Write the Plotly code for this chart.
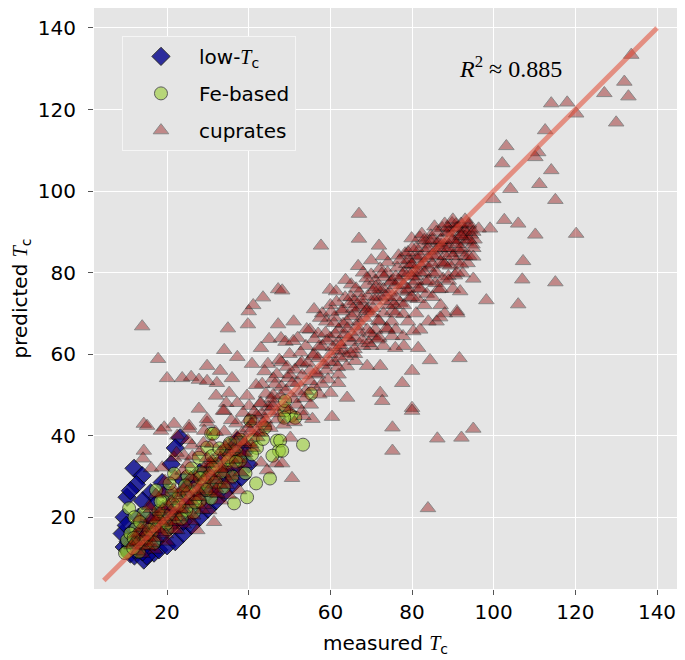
import plotly.graph_objects as go

# ---------------- data ----------------
low_tc = [(9.5,12.7),(9,16),(9.5,20),(10.2,24.9),(11.9,32.0),(13.9,30.2),(12.5,28),(11,26.5),(10,18),
          (10.5,14),(11,11),(12,10.5),(13,12),(14.3,9.5),(16.8,11.2),(15,10.5),(18,12),(20,13),(22,14),
          (24,16),(26,18),(28,20),(30,22),(32,24),(34,26),(36,28),(38.2,29.8),(37.2,38.8),(35,36),(38,35),
          (33,33),(30,31),(28,28),(25,25),(22,22),(20,20),(18,18),(16,16),(14,14),(12,12),(18.8,28.5),
          (16,26),(14,24),(13,20),(12,17),(15,20),(17,23),(20,26),(23.2,39.5),(22,37),(21,33),(24,29),
          (36,37),(39,36),(40,33),(17,14),(19,16),(21,18),(23,20),(26,22),
          (29,25),(31,27),(33,29),(35,31),(37,33),(11,13),(13,15),(15,17),(26,29),(28,31),(24,19),(19,22),
          (14,11.5),(10.5,12)]

fe_based = [(10.7,22.2),(10.2,11.5),(13.1,11.5),(10.2,14.4),(17.3,26.6),(21.7,30.7),(22.9,25.4),(28.3,31.0),
            (27.8,34.6),(30.8,40.5),(29.8,37.1),(34.5,36.3),(39.6,24.9),(41.8,28.3),(45.2,29.5),(36.4,23.4),
            (46.9,38.8),(47.4,36.3),(45.8,35.1),(50.4,44.9),(48.7,46.1),(26.6,21.2),(16.3,16.3),(12.4,17.3),
            (14.8,13.7),(16.8,13.7),(21.1,25.9),(30.8,24.6),(24.7,21.7),(19.3,20.5),(14.3,21.0),(33.2,31.0),
            (34.7,33.4),(32.0,28.5),(29.1,28.3),(53.3,37.8),(55.3,50.3),(48.9,48.5),(51.4,44.4),(48.7,44.4),
            (47.7,38.8),(48.2,36.3),(40.4,43.7),(31.3,40.5),(9.7,11.2),(11.7,12.4),(18,19),(20,17),(23,23),
            (25,26),(27,27),(30,30),(32,33),(35,34),(37,36),(38,39),(25,30),(22,20),(19,24),(28,24),(15,15),
            (13,14),(11,16),(12,20),(17,18),(26,32),(31,35),(36,30),(41,39),(44,42),(38,34),(42,37),
            (11.8,14.9),(13.4,18.8),(15.6,16.9),(17.9,21.5),(19.8,18.4),(21.5,23.2),(23.6,19.7),(24.4,27.8),
            (26.9,23.6),(28.1,29.6),(29.6,26.7),(31.2,32.1),(32.8,36.9),(33.9,27.3),(35.4,38.2),(36.9,33.6),
            (39.2,30.8),(40.8,35.4),(43.5,39.2),(20.6,28.3),(18.4,23.9)]

cuprates_low = [(13.9,66.8),(17.8,58.8),(20.0,54.1),(23.7,54.1),(25.9,54.4),(27.8,53.7),(29.8,57.1),(33.0,55.9),
                (34.0,61.0),(37.2,59.3),(34.9,66.3),(39.8,67.3),(40.0,70.5),(41.1,72.0),(43.5,73.9),(47.2,75.9),
                (47.2,67.3),(45.0,63.7),(43.0,61.5),(47.9,63.9),(40.8,57.6),(44.7,57.6),(46.9,55.1),(43.3,52.7),
                (32.2,52.9),(35.9,54.1),(29.8,53.4),(27.8,46.6),(32.0,49.8),(35.2,50.5),(34.5,48.0),(37.2,48.0),
                (34.0,46.1),(39.6,49.8),(40.1,47.3),(43.0,48.0),(29.8,43.2),(14.3,42.9),(21.7,42.9),(19.3,42.0),
                (25.4,42.4),(15.1,42.4),(14.3,36.3),(14.1,34.4),(18.5,41.2),(22.5,40.0),(25.4,41.7),(29.8,44.1),
                (33.7,46.1),(29.1,41.2),(16.1,32.0),(18.8,32.2),(21.7,34.6),(24.2,35.1),(26.1,37.6),(30.3,21.7),
                (31.5,25.9),(33.2,24.1),(35.2,25.4),(37.6,26.6),(43.0,33.4),(44.5,31.5),(46.7,33.2),(43.0,40.7),
                (40.6,42.9),(50.6,29.6),(31.5,18.8),(27.4,16.8),(22.5,16.8),(48.2,33.2),(50.2,39.5),(55.6,44.1),
                (60.0,50.5),(61.9,52.9),(64.1,49.3),(60.4,44.6),(48.2,75.6),
                (12,14),(13,16),(14,13),(15,18),(16,15),(17,20),(18,17),(19,22),(20,19),(21,24),(22,21),(23,26),
                (24,22),(25,28),(26,24),(27,30),(28,26),(29,32),(30,28),(31,34),(32,30),(33,36),(34,32),(35,38),
                (36,34),(37,40),(38,36),(39,38),(36,30),(33,28),(30,33),(27,25),(24,27),(21,18),(18,20),(15,14),
                (16,22),(19,26),(22,30),(25,33),(28,36),(31,38),(34,41),(37,43),(40,44),(42,45),(44,44),(46,48),
                (38,31),(41,37),(39,33),(26,19),(23,20),(20,14),(17,12),(14,11),(35,29),(29,23),(32,27)]

cuprates_cluster = [(11.3,13.1),(12.2,15.7),(12.8,11.6),(13.6,17.4),(14.5,15.2),(15.3,12.8),(15.9,19.6),
                    (16.7,17.1),(17.4,14.9),(18.2,21.3),(18.9,18.6),(19.7,15.8),(20.4,22.7),(21.2,20.1),
                    (21.9,16.9),(22.7,24.6),(23.4,21.8),(24.1,18.2),(24.9,26.3),(25.6,23.1),(26.4,20.4),
                    (27.1,28.5),(27.8,24.9),(28.6,21.8),(29.3,29.7),(30.1,26.4),(30.8,33.2),(31.6,29.1),
                    (32.3,25.7),(33.1,34.6),(33.8,30.7),(34.6,27.9),(35.3,35.9),(36.1,32.4),(36.8,38.5),
                    (37.6,34.2),(38.3,40.6),(39.1,35.7),(39.8,41.8),(40.6,37.9),(41.4,43.6),(42.2,40.8),
                    (43.1,45.4),(44.0,42.3),(44.8,47.1),(19.5,28.9),(17.3,25.6),(23.8,31.4),(26.2,34.9),
                    (28.9,38.2),(31.9,40.9),(35.7,43.8),(38.6,45.6),(22.3,35.8),(25.1,38.9),
                    (12.6,13.8),(14.9,16.4),(16.4,13.6),(18.6,16.3),(20.9,21.6),(22.2,18.8),(24.6,23.9),
                    (27.5,26.8),(30.4,30.9),(33.4,31.8),(36.4,36.7),(38.9,38.4),(17.1,19.3),(21.6,26.8),
                    (25.8,29.7),(29.8,34.5),(34.2,37.4),(15.6,22.8),(13.2,19.7)]

cuprates_mid = [(57.7,86.6),(59.9,75.8),(65.1,77.1),(63.6,73.9),(67.0,94.4),(67.0,88.3),(70.0,79.5),(72.2,81.0),
                (71.9,86.6),(52.6,57.6),(49.6,54.1),(62,60.7),(66.1,58.3),(69.0,57.1),(72.2,57.1),(70.5,64.4),
                (75.1,64.4),(75.9,61.5),(77.8,64.4),(80.3,65.6),(81.5,61.5),(84.4,58.5),(80.0,55.9),(77.6,52.9),
                (72.2,50.5),(72.7,48.5),(80.0,46.8),(80.0,46.1),(75.2,42.0),(75.2,36.3),(86.2,39.3),(83.9,22.2),
                (91.6,59.0),(95.0,41.7),(92.1,39.5),
                (45,46),(46,50),(47,44),(48,52),(49,47),(50,55),(51,49),(52,53),(53,58),(54,51),(55,56),(50,60),
                (52,64),(54,62),(56,60),(48,58),(46,54),(53,46),(57,55),(55,66),(51,68),(49,63),
                (56,52),(57,59),(58,62),(59,56),(60,64),(61,58),(62,66),(63,61),(64,68),(65,63),(58,70),(60,72),
                (62,55),(64,57),(66,70),(57,65),(59,68),(61,69),(63,71),(65,74),(56,71),(60,60),(62,63),
                (66,64),(67,68),(68,72),(69,66),(70,70),(71,74),(72,68),(73,76),(74,72),(75,78),(66,60),(68,62),
                (70,62),(72,64),(74,66),(67,75),(69,77),(71,78),(73,70),(75,73),(68,80),(70,83),(72,76),(74,80),
                (66,73),(69,71),(71,66),(73,62),(75,68)]

cuprates_band = [(40.5,41.2),(41.3,45.8),(42.1,39.6),(42.8,47.9),(43.6,43.1),(44.2,50.3),(45.3,41.9),(45.9,47.2),
                 (46.4,52.6),(47.1,45.5),(47.8,49.8),(48.6,42.7),(49.2,51.1),(49.9,46.3),(50.7,52.9),(51.3,56.2),
                 (51.8,47.6),(52.4,50.4),(53.1,54.8),(53.7,49.2),(54.5,57.9),(55.1,53.4),(55.8,59.6),(56.4,55.3),
                 (57.2,61.8),(57.9,52.7),(58.5,57.4),(59.1,63.3),(59.8,58.1),(60.6,61.7),
                 (61.2,64.9),(61.8,56.8),(62.5,62.2),(63.1,67.4),(63.8,59.5),(64.4,64.1),(65.2,69.3),(65.9,61.2),
                 (66.5,66.8),(67.2,71.6),(67.8,63.4),(68.4,68.9),(69.1,74.2),(69.7,65.1),(70.4,71.3),(71.1,76.5),
                 (71.7,68.2),(72.4,73.9),(73.1,78.8),(73.8,66.4),(74.5,75.1),(75.2,70.6),(74.1,82.5),(72.9,84.0),
                 (70.6,75.7),(68.9,78.6),(66.3,76.1),(64.7,72.3),(62.9,70.5),(60.9,67.6),
                 (75.8,76.9),(76.4,81.2),(77.1,72.6),(77.7,79.4),(78.3,84.7),(78.9,75.3),(79.6,81.9),(80.2,77.1),
                 (80.8,84.3),(81.4,73.5),(82.1,81.7),(82.7,86.9),(83.3,77.8),(83.9,83.6),(84.6,89.1),(85.2,79.6),
                 (85.8,85.4),(86.4,75.9),(87.1,86.8),(87.7,82.3),(88.3,89.7),(88.9,79.1),(89.5,84.8),(90.2,90.6),
                 (90.8,82.7),(91.4,88.2),(92.0,84.9),(92.6,90.8),(93.2,87.6),(93.8,91.7),(94.4,89.3),(89.8,92.1),
                 (87.4,90.9),(85.5,91.3),(83.2,85.2),(81.1,83.4),(79.2,79.9),(77.4,75.6),(81.9,88.6),(79.9,88.4)]

cuprates_band2 = [(41.8,52.4),(43.9,55.8),(45.6,49.1),(47.5,58.6),(49.4,56.9),(50.9,63.2),(52.7,60.4),(54.2,66.1),
                  (56.1,63.7),(57.5,68.9),(58.8,65.2),(60.2,70.4),(59.4,53.8),(57.3,50.1),(55.2,47.6),(53.4,44.8),
                  (51.2,43.3),(61.5,72.8),(62.3,59.1),(63.5,64.8),(64.9,60.3),(65.6,71.2),(66.9,65.5),(67.6,73.4),
                  (68.8,70.6),(69.4,62.7),(70.9,73.1),(71.5,63.6),(72.6,79.7),(73.5,74.3),(74.8,77.6),(75.6,72.1),
                  (76.7,84.2),(77.9,69.8),(78.6,82.1),(79.4,73.7),(63.7,78.2),(61.4,75.4),(66.8,81.6),(64.2,66.3),
                  (80.6,80.7),(81.6,76.2),(82.4,89.5),(83.6,74.8),(84.1,81.2),(84.9,84.3),(85.7,77.4),(86.2,87.3),
                  (86.9,82.6),(87.6,78.5),(88.1,84.1),(88.7,91.1),(89.3,81.7),(89.9,87.9),(90.5,79.3),(91.2,85.6),
                  (91.9,89.4),(92.4,79.8),(93.0,88.8),(93.6,82.3),(94.2,90.5),(94.8,86.9),(95.3,88.1),(90.7,91.8),
                  (88.5,87.4),(86.8,85.9),(84.3,87.7),(82.9,82.3),(80.9,79.2),(79.1,83.2)]

cuprates_high = [(76,74),(77,78),(78,80),(79,76),(80,82),(81,78),(82,84),(83,80),(84,86),(85,82),(76,70),(78,72),
                 (80,74),(82,76),(84,78),(77,83),(79,85),(81,86),(83,88),(85,88),(76,66),(79,68),(81,70),(83,72),
                 (85,74),(78,62),(82,66),(84,68),(80,79),(82,80),(78,77),(80,86),(76,79),
                 (86,84),(87,88),(88,86),(89,90),(90,88),(91,91),(92,92),(93,90),(94,92),(86,80),(88,82),(90,84),
                 (92,86),(94,88),(87,76),(89,78),(91,80),(93,84),(86,90),(88,92),(90,93),(92,89),(89,86),(91,87),
                 (93,93),(87,72),(90,76),(86,68),(88,70),(92,82),(95,90),(95,86),(94,84),
                 (102.6,92.9),(106.0,92.0),(99.1,90.8),(110.2,89.3),(120.2,89.5),(107.2,82.8),(96.3,90.8),
                 (107.0,78.3),(115.1,77.6),(106.0,72.2),(98.2,73.2),(95.0,78.5),(95,83.9),(91.0,70.5),(91.8,75.4),
                 (91.1,70.0),(86.9,69.0),(99.9,98.0),
                 (133.7,133.4),(132.0,126.8),(133.0,123.2),(127.1,124.0),(130.0,116.8),(114.1,121.5),(118.0,121.7),
                 (120.2,119.0),(112.6,114.9),(103.1,111.0),(102.1,106.8),(110.9,109.5),(110.2,108.3),(114.1,105.1),
                 (111.2,101.7),(104.1,100.5),(115.1,97.8)]

line_x = [4.5, 140]
line_y = [4.5, 140]

x_ticks = [20, 40, 60, 80, 100, 120, 140]
y_ticks = [20, 40, 60, 80, 100, 120, 140]
r2_text = "<i>R</i><sup>2</sup> ≈ 0.885"

cuprates = cuprates_low + cuprates_cluster + cuprates_mid + cuprates_band + cuprates_band2 + cuprates_high

# ---------------- figure ----------------
SERIF_T = "<span style=\"font-family:Liberation Serif\"><i>T</i></span><sub>c</sub>"

fig = go.Figure()
fig.add_trace(go.Scatter(
    x=[p[0] for p in low_tc], y=[p[1] for p in low_tc], mode="markers",
    name="low-" + SERIF_T, legendgroup="a",
    marker=dict(symbol="diamond", size=14, color="#00008B", opacity=0.8,
                line=dict(color="black", width=1))))
fig.add_trace(go.Scatter(
    x=[p[0] for p in fe_based], y=[p[1] for p in fe_based], mode="markers",
    name="Fe-based", legendgroup="b",
    marker=dict(symbol="circle", size=13, color="#9ACD32", opacity=0.6,
                line=dict(color="black", width=1))))
fig.add_trace(go.Scatter(
    x=[p[0] for p in cuprates], y=[p[1] for p in cuprates], mode="markers",
    name="cuprates", legendgroup="c",
    marker=dict(symbol="triangle-up", size=13.5, color="#8B0000", opacity=0.4,
                line=dict(color="black", width=1))))
fig.add_trace(go.Scatter(
    x=line_x, y=line_y, mode="lines", showlegend=False,
    line=dict(color="#E24A33", width=5), opacity=0.55, hoverinfo="skip"))

axis_font = dict(family="DejaVu Sans", size=20, color="black")
common = dict(ticks="outside", ticklen=5, tickwidth=1, tickcolor="#555555",
              showgrid=True, gridcolor="white", gridwidth=1, zeroline=False,
              showline=True, linecolor="rgba(0,0,0,0)", mirror="ticks",
              tickfont=axis_font, automargin=False)

fig.update_xaxes(range=[2.1, 144.9], tickvals=x_ticks,
                 title=dict(text="measured " + SERIF_T, font=axis_font, standoff=12), **common)
fig.update_yaxes(range=[2.4, 144.9], tickvals=y_ticks, ticklabelstandoff=8,
                 title=dict(text="predicted " + SERIF_T, font=axis_font, standoff=10), **common)

fig.add_annotation(x=104, y=130.5, xref="x", yref="y", text=r2_text, showarrow=False,
                   font=dict(family="Liberation Serif", size=24, color="black"))

# the page body adds an 8 px offset, so the figure is sized to fill the 685x660 window
fig.update_layout(
    width=677, height=652,
    margin=dict(l=86, r=8, t=0, b=71, autoexpand=False),
    paper_bgcolor="white", plot_bgcolor="#E5E5E5",
    showlegend=True,
    legend=dict(x=0.048, y=0.952, xanchor="left", yanchor="top",
                bgcolor="#E5E5E5", bordercolor="#F5F5F5", borderwidth=1,
                font=dict(family="DejaVu Sans", size=20, color="black"),
                tracegroupgap=8, itemwidth=66),
)

fig.write_html("out.html")
